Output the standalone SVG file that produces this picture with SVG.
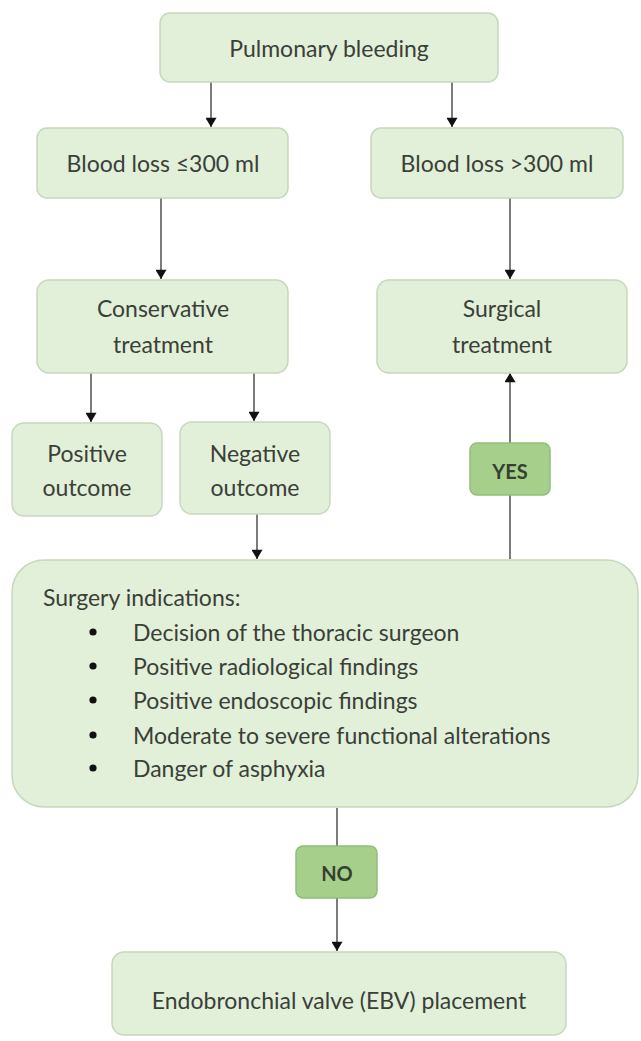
<svg xmlns="http://www.w3.org/2000/svg" width="641" height="1041" viewBox="0 0 641 1041">
<defs>
<marker id="arr" viewBox="0 0 10 12" refX="10" refY="6" markerWidth="12" markerHeight="11" markerUnits="userSpaceOnUse" orient="auto">
<path d="M0,0 L10,6 L0,12 z" fill="#111"/>
</marker>
<style>
.box{fill:#e2efd9;stroke:#c6d8bb;stroke-width:1.5}
.lab{fill:#a7cf8c;stroke:#93bd79;stroke-width:1.5}
.t{font-family:Lato,"Liberation Sans",sans-serif;font-size:23px;fill:#3a3f38;text-anchor:middle;dominant-baseline:central}
.tl{font-family:Lato,"Liberation Sans",sans-serif;font-size:23px;fill:#3a3f38;dominant-baseline:central}
.tb{font-family:Lato,"Liberation Sans",sans-serif;font-size:20px;font-weight:bold;fill:#35412f;text-anchor:middle;dominant-baseline:central}
.c{stroke:#444;stroke-width:1.4;fill:none}
</style>
</defs>
<rect width="641" height="1041" fill="#ffffff"/>
<g id="connectors">
<line class="c" x1="211" y1="82" x2="211" y2="127" marker-end="url(#arr)"/>
<line class="c" x1="452" y1="82" x2="452" y2="127" marker-end="url(#arr)"/>
<line class="c" x1="161" y1="198" x2="161" y2="279" marker-end="url(#arr)"/>
<line class="c" x1="510" y1="198" x2="510" y2="279" marker-end="url(#arr)"/>
<line class="c" x1="91" y1="373" x2="91" y2="422" marker-end="url(#arr)"/>
<line class="c" x1="254" y1="373" x2="254" y2="421" marker-end="url(#arr)"/>
<line class="c" x1="257" y1="514" x2="257" y2="559" marker-end="url(#arr)"/>
<line class="c" x1="510" y1="559" x2="510" y2="373" marker-end="url(#arr)"/>
<line class="c" x1="337" y1="808" x2="337" y2="951" marker-end="url(#arr)"/>
</g>
<g id="pulmonary">
<rect class="box" x="160" y="13" width="338" height="69" rx="10"/>
<text class="t" x="329" y="48">Pulmonary bleeding</text>
</g>
<g id="loss-low">
<rect class="box" x="37" y="128" width="251" height="70" rx="10"/>
<text class="t" x="163" y="163">Blood loss ≤300 ml</text>
</g>
<g id="loss-high">
<rect class="box" x="371" y="128" width="252" height="70" rx="10"/>
<text class="t" x="497" y="163">Blood loss &gt;300 ml</text>
</g>
<g id="conservative">
<rect class="box" x="37" y="280" width="251" height="93" rx="12"/>
<text class="t" x="163" y="308">Conservative</text>
<text class="t" x="163" y="344">treatment</text>
</g>
<g id="surgical">
<rect class="box" x="377" y="280" width="250" height="93" rx="12"/>
<text class="t" x="502" y="308">Surgical</text>
<text class="t" x="502" y="344">treatment</text>
</g>
<g id="positive">
<rect class="box" x="12" y="423" width="150" height="93" rx="12"/>
<text class="t" x="87" y="453">Positive</text>
<text class="t" x="87" y="487">outcome</text>
</g>
<g id="negative">
<rect class="box" x="180" y="422" width="150" height="92" rx="12"/>
<text class="t" x="255" y="453">Negative</text>
<text class="t" x="255" y="487">outcome</text>
</g>
<g id="yes">
<rect class="lab" x="470" y="443" width="80" height="52" rx="7"/>
<text class="tb" x="510" y="471">YES</text>
</g>
<g id="indications">
<rect class="box" x="12" y="560" width="626" height="247" rx="32"/>
<text class="tl" x="43" y="597">Surgery indications:</text>
<g fill="#111">
<circle cx="93" cy="632" r="3.6"/>
<circle cx="93" cy="666" r="3.6"/>
<circle cx="93" cy="700" r="3.6"/>
<circle cx="93" cy="735" r="3.6"/>
<circle cx="93" cy="768" r="3.6"/>
</g>
<text class="tl" x="133" y="632">Decision of the thoracic surgeon</text>
<text class="tl" x="133" y="666">Positive radiological findings</text>
<text class="tl" x="133" y="700">Positive endoscopic findings</text>
<text class="tl" x="133" y="735">Moderate to severe functional alterations</text>
<text class="tl" x="133" y="768">Danger of asphyxia</text>
</g>
<g id="no">
<rect class="lab" x="296" y="846" width="81" height="52" rx="7"/>
<text class="tb" x="337" y="873">NO</text>
</g>
<g id="ebv">
<rect class="box" x="112" y="952" width="454" height="83" rx="12"/>
<text class="t" x="339" y="1000">Endobronchial valve (EBV) placement</text>
</g>
</svg>
